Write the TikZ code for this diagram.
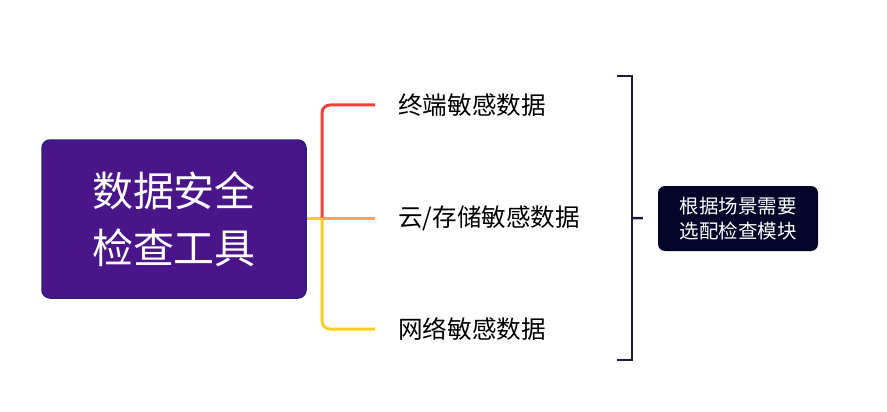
\documentclass[tikz,border=0pt]{standalone}
\usepackage{fontspec}
\setmainfont{Noto Sans CJK SC}
\usetikzlibrary{positioning}

\definecolor{toolfill}{HTML}{4A1589}
\definecolor{tooledge}{HTML}{2B1E7E}
\definecolor{notefill}{HTML}{05052A}
\definecolor{branchred}{HTML}{F5403A}
\definecolor{branchorange}{HTML}{F7A35A}
\definecolor{branchyellow}{HTML}{F5D020}
\definecolor{bracketcol}{HTML}{1A1A38}

\begin{document}
\begin{tikzpicture}[x=1pt, y=-1pt,
	toolbox/.style = {draw=tooledge, line width=1.5pt, fill=toolfill, rounded corners=8pt,
		minimum width=264pt, minimum height=158pt, text=white, align=center,
		font=\fontsize{41}{57}\selectfont},
	notebox/.style = {fill=notefill, rounded corners=7pt, minimum width=160pt, minimum height=65pt,
		text=white, align=center, font=\fontsize{19.5}{25}\selectfont},
	leaf/.style = {anchor=west, inner xsep=23pt, inner ysep=0pt, font=\fontsize{24.6}{28}\selectfont},
	branch/.style = {line width=3pt, rounded corners=8pt},
	bracketline/.style = {bracketcol, line width=2.5pt}]
	\useasboundingbox (0, 0) rectangle (887, 412);

	\node[toolbox] (tool) at (174, 219) {数据安全\\检查工具};
	\node[leaf] (term) at (375, 105) {终端敏感数据};
	\node[leaf] (cloud) at (375, 218) {云/存储敏感数据};
	\node[leaf] (net) at (375, 329) {网络敏感数据};
	\node[notebox] (note) at (738, 218.5) {根据场景需要\\选配检查模块};

	\coordinate (fork) at (322, 218);
	\draw[branch, branchyellow] (tool.east |- fork) -- (fork);
	\draw[branch, branchyellow] (fork) |- (net.west);
	\draw[branch, branchred] (fork) |- (term.west);
	\draw[branch, branchorange] (fork) -- (cloud.west);

	\coordinate (btop) at (617, 76);
	\coordinate (bbot) at (617, 360);
	\coordinate (bmid) at (632, 218);
	\draw[bracketline] (btop) -- (632, 76) -- (632, 360) -- (bbot);
	\draw[bracketline, shorten >=15pt] (bmid) -- (note.west);
\end{tikzpicture}
\end{document}
